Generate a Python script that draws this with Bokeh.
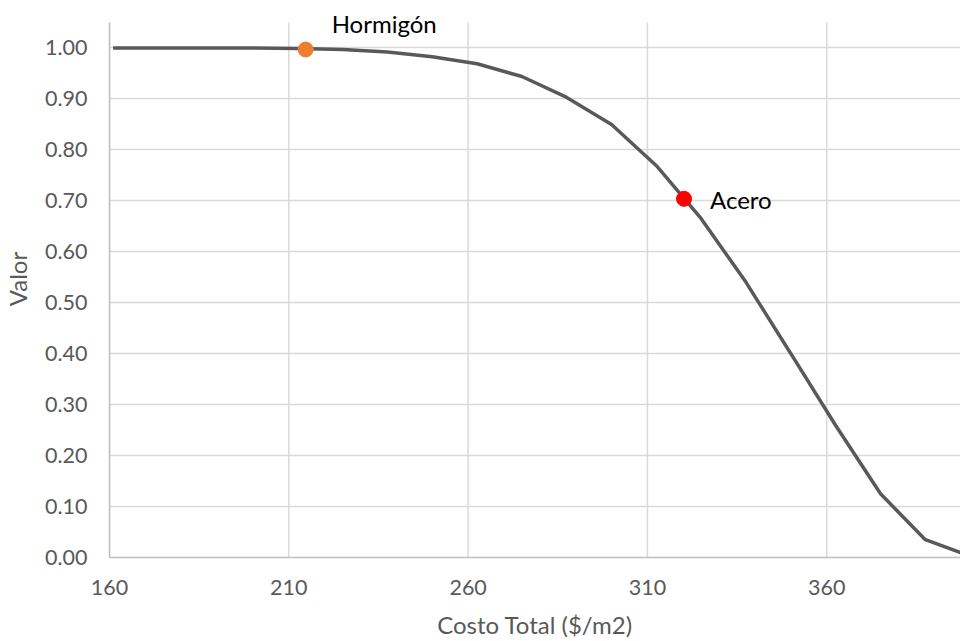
from bokeh.plotting import figure
from bokeh.models import ColumnDataSource, FixedTicker, NumeralTickFormatter, Range1d, Label
from bokeh.embed import file_html
from bokeh.resources import INLINE

# ---- data ----
costo = [161, 175, 187.5, 200, 212.5, 225, 237.5, 250, 262.5, 275, 287.5, 300,
         312.5, 325, 337.5, 350, 362.5, 375, 387.5, 400]
valor = [1.000, 1.000, 1.000, 1.000, 0.999, 0.997, 0.992, 0.983, 0.969, 0.944,
         0.903, 0.850, 0.769, 0.665, 0.540, 0.400, 0.259, 0.125, 0.035, 0.003]

puntos_nombre = ["Hormigón", "Acero"]
puntos_x = [214.7, 320.2]
puntos_y = [0.997, 0.704]
puntos_color = ["#ED7D31", "#FF0000"]

x_ticks = [160, 210, 260, 310, 360]
y_ticks = [0.0, 0.1, 0.2, 0.3, 0.4, 0.5, 0.6, 0.7, 0.8, 0.9, 1.0]
y_axis_max = 1.05

FONT = "Lato"
GRAY = "#595959"
GRID = "#D9D9D9"

p = figure(width=960, height=641, output_backend="svg", toolbar_location=None,
           x_range=Range1d(160, 397.3), y_range=Range1d(0, 1.0932),
           min_border_left=108, min_border_right=0, min_border_top=0,
           min_border_bottom=84)
p.outline_line_color = None
p.background_fill_color = "white"
p.border_fill_color = "white"

# vertical gridlines, limited to the plot area height
p.xgrid.grid_line_color = None
p.segment(x0=x_ticks, y0=[0] * len(x_ticks), x1=x_ticks, y1=[y_axis_max] * len(x_ticks),
          line_color=GRID, line_width=1.5, level="underlay")

# curve
p.line(costo, valor, line_color=GRAY, line_width=3.5)

# points
src = ColumnDataSource(dict(x=puntos_x, y=puntos_y, nombre=puntos_nombre, color=puntos_color))
p.scatter("x", "y", source=src, size=15, fill_color="color", line_color="color")

# labels
label_offsets_y = [26, -1]
for nombre, px, py, dy in zip(puntos_nombre, puntos_x, puntos_y, label_offsets_y):
    p.add_layout(Label(x=px, y=py, text=nombre, x_offset=26, y_offset=dy,
                       text_font=FONT, text_font_size="24px", text_color="black",
                       text_align="left", text_baseline="alphabetic"))

# axes
p.xaxis.ticker = FixedTicker(ticks=x_ticks)
p.yaxis.ticker = FixedTicker(ticks=y_ticks)
p.yaxis.formatter = NumeralTickFormatter(format="0.00")
p.yaxis.bounds = (0, y_axis_max)
p.xaxis.axis_label = "Costo Total ($/m2)"
p.yaxis.axis_label = "Valor"

for ax in (p.xaxis, p.yaxis):
    ax.major_tick_line_color = None
    ax.minor_tick_line_color = None
    ax.major_tick_out = 0
    ax.major_tick_in = 0
    ax.axis_line_color = "#BFBFBF"
    ax.axis_line_width = 1.5
    ax.major_label_text_font = FONT
    ax.major_label_text_font_size = "21.5px"
    ax.major_label_text_color = GRAY
    ax.axis_label_text_font = FONT
    ax.axis_label_text_font_size = "24px"
    ax.axis_label_text_font_style = "normal"
    ax.axis_label_text_color = GRAY

p.xaxis.major_label_standoff = 22
p.xaxis.axis_label_standoff = 12
p.yaxis.major_label_standoff = 22
p.yaxis.axis_label_standoff = 10

p.ygrid.grid_line_color = GRID
p.ygrid.grid_line_width = 1.5

open("out.html", "w").write(file_html(p, INLINE))
